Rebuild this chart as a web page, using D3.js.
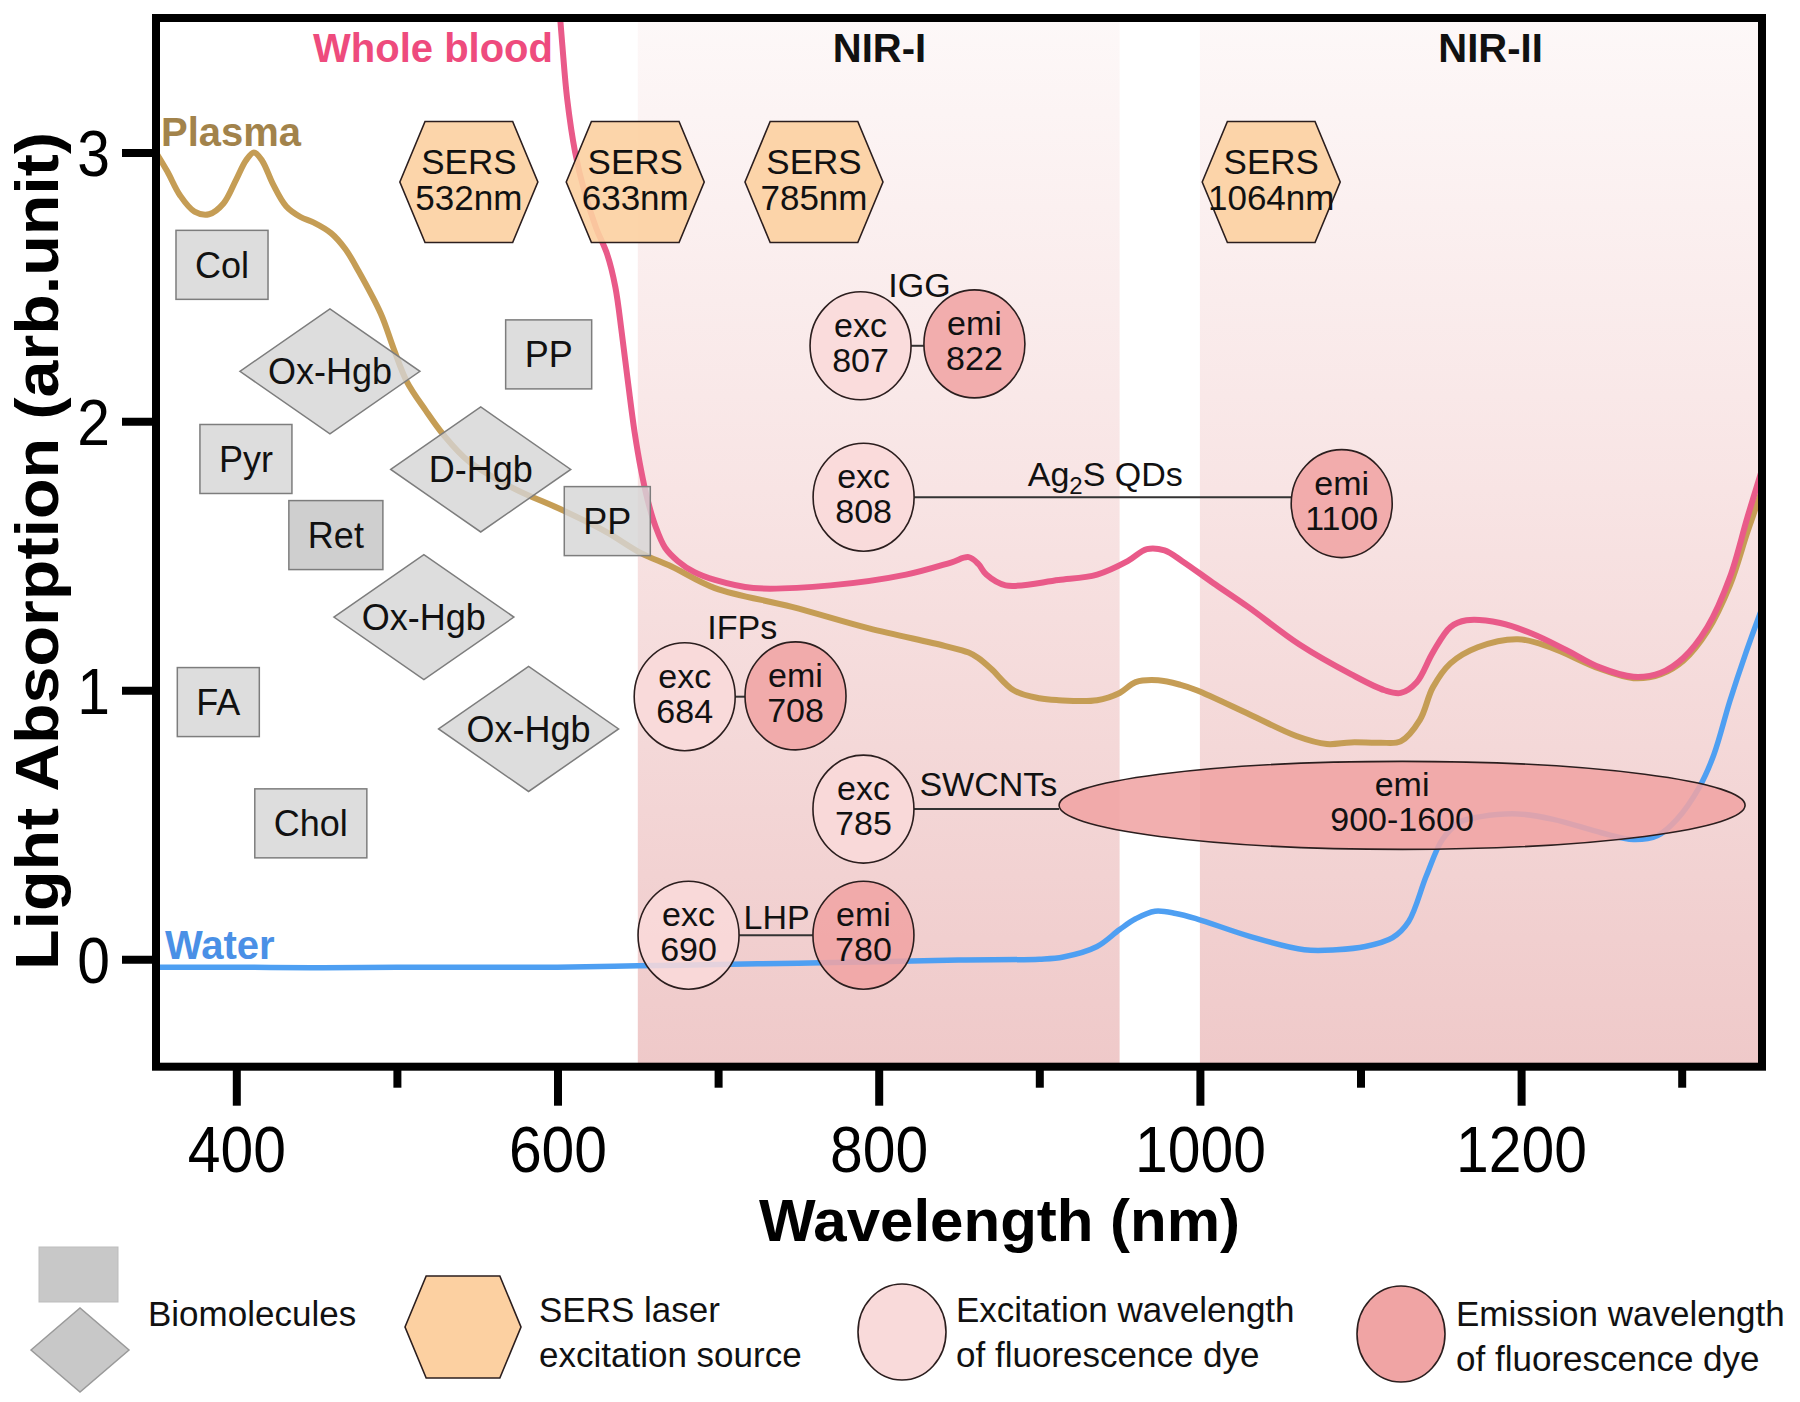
<!DOCTYPE html>
<html><head><meta charset="utf-8">
<script src="https://cdn.jsdelivr.net/npm/d3@7"></script>
<style>
html,body{margin:0;padding:0;background:#fff;}
svg{display:block;font-family:"Liberation Sans",Arial,Helvetica,sans-serif;}
</style></head>
<body><svg id="chart" width="1800" height="1402"></svg>
<script>
// ---------------- data ----------------
const bloodWl  = [601, 603, 606, 611, 617, 624, 631, 636, 640, 644, 648, 652, 656, 661, 667, 675, 685, 698, 722, 770, 817, 845, 856, 862, 867, 879, 912, 936, 955, 967, 978, 989, 1008, 1030, 1062, 1094, 1115, 1125, 1135, 1145, 1156, 1166, 1187, 1207, 1228, 1249, 1270, 1287, 1301, 1316, 1330, 1341, 1350];
const bloodAbs = [3.55, 3.40, 3.20, 3.00, 2.85, 2.72, 2.62, 2.50, 2.33, 2.14, 1.96, 1.82, 1.71, 1.61, 1.53, 1.48, 1.44, 1.41, 1.38, 1.39, 1.43, 1.475, 1.495, 1.47, 1.43, 1.39, 1.41, 1.43, 1.48, 1.525, 1.52, 1.48, 1.40, 1.31, 1.17, 1.06, 1.00, 0.99, 1.03, 1.14, 1.235, 1.26, 1.25, 1.21, 1.15, 1.085, 1.05, 1.065, 1.12, 1.235, 1.42, 1.645, 1.82];

const plasmaWl  = [350, 357, 365, 374, 383, 392, 400, 406, 411, 416, 423, 431, 440, 448, 459, 468, 476, 490, 498, 506, 518, 529, 545, 573, 603, 630, 652, 671, 698, 746, 794, 841, 856, 862, 870, 884, 900, 912, 936, 950, 960, 974, 988, 998, 1031, 1060, 1079, 1094, 1112, 1125, 1137, 1145, 1156, 1173, 1198, 1218, 1249, 1270, 1287, 1301, 1316, 1330, 1341, 1350];
const plasmaAbs = [3.00, 2.93, 2.84, 2.78, 2.77, 2.81, 2.90, 2.97, 3.00, 2.97, 2.88, 2.80, 2.76, 2.74, 2.70, 2.64, 2.56, 2.40, 2.27, 2.15, 2.04, 1.95, 1.85, 1.75, 1.67, 1.59, 1.51, 1.46, 1.38, 1.31, 1.23, 1.165, 1.14, 1.12, 1.08, 1.00, 0.97, 0.963, 0.963, 0.99, 1.03, 1.037, 1.02, 1.00, 0.91, 0.83, 0.80, 0.806, 0.805, 0.81, 0.89, 1.01, 1.10, 1.16, 1.19, 1.16, 1.08, 1.045, 1.06, 1.11, 1.22, 1.39, 1.59, 1.745];

const waterWl  = [350, 400, 450, 500, 550, 600, 650, 700, 750, 800, 850, 900, 915, 936, 950, 960, 972, 985, 998, 1031, 1065, 1085, 1103, 1120, 1130, 1141, 1151, 1162, 1175, 1198, 1220, 1250, 1270, 1285, 1297, 1311, 1320, 1330, 1340, 1350];
const waterAbs = [-0.03, -0.03, -0.032, -0.03, -0.03, -0.03, -0.025, -0.02, -0.015, -0.01, -0.003, 0.0, 0.008, 0.047, 0.11, 0.15, 0.178, 0.17, 0.15, 0.085, 0.035, 0.035, 0.047, 0.08, 0.14, 0.31, 0.445, 0.51, 0.53, 0.54, 0.52, 0.47, 0.445, 0.46, 0.52, 0.64, 0.76, 0.96, 1.14, 1.305];

const curveNames    = ["Whole blood", "Plasma", "Water"];
const curveLabelWl  = [522.5, 353.1, 355.6];
const curveLabelAbs = [3.336, 3.025, 0.0];

const xTicksMajor = [400, 600, 800, 1000, 1200];
const xTicksMinor = [500, 700, 900, 1100, 1300];
const yTicks = [0, 1, 2, 3];

const bandNames   = ["NIR-I", "NIR-II"];
const bandStart   = [650, 1000];
const bandEnd     = [950, 1350];
const bandLabelWl = [800.5, 1181];
const bandLabelAbs = 3.336;

const boxNames = ["Col", "PP", "Pyr", "Ret", "PP", "FA", "Chol"];
const boxWl    = [391.1, 594.5, 406, 462, 631, 388.8, 446.4];
const boxAbs   = [2.582, 2.249, 1.860, 1.577, 1.629, 0.956, 0.505];

const diamondNames = ["Ox-Hgb", "D-Hgb", "Ox-Hgb", "Ox-Hgb"];
const diamondWl    = [458.3, 552.2, 516.8, 582];
const diamondAbs   = [2.186, 1.821, 1.272, 0.856];

const sersNames = ["532nm", "633nm", "785nm", "1064nm"];
const sersWl    = [544.8, 648.4, 759.7, 1044.4];
const sersAbs   = [2.89, 2.89, 2.89, 2.89];

const dyeNames    = ["IGG", "Ag2S QDs", "IFPs", "SWCNTs", "LHP"];
const dyeExc      = ["807", "808", "684", "785", "690"];
const dyeEmi      = ["822", "1100", "708", "900-1600", "780"];
const dyeExcWl    = [788.7, 790.6, 679.2, 790.5, 681.6];
const dyeExcAbs   = [2.281, 1.718, 0.976, 0.558, 0.089];
const dyeEmiWl    = [859.6, 1088.3, 748.2, 1125.9, 790.5];
const dyeEmiAbs   = [2.288, 1.694, 0.979, 0.572, 0.089];
const dyeLabelWl  = [825.4, 941.1, 715, 868.3, 736.4];
const dyeLabelAbs = [2.462, 1.761, 1.19, 0.605, 0.112];

const legendLabels = [["Biomolecules"], ["SERS laser", "excitation source"], ["Excitation wavelength", "of fluorescence dye"], ["Emission wavelength", "of fluorescence dye"]];

// ---------------- setup ----------------
const svg = d3.select("#chart");
const L = 156, R = 1762, T = 18, B = 1066.7;
const x = d3.scaleLinear().domain([350, 1350]).range([L, R]);
const y = d3.scaleLinear().domain([-0.4, 3.5]).range([B, T]);

const C = {
  blood: "#e95a89", bloodText: "#ee4b7d",
  plasma: "#c59d55", plasmaText: "#a2834b",
  water: "#4e9ff2", waterText: "#4a90e6",
  box: "#d5d5d5", boxDark: "#c4c4c4", boxStroke: "#7d7d7d",
  hex: "#fcd0a1", exc: "#f9dada", emi: "#f0a4a4", shapeStroke: "#2b1e1e"
};

const defs = svg.append("defs");
const grad = defs.append("linearGradient").attr("id", "bandGrad")
  .attr("x1", 0).attr("y1", 0).attr("x2", 0).attr("y2", 1);
grad.append("stop").attr("offset", "0%").attr("stop-color", "#fdf8f8");
grad.append("stop").attr("offset", "45%").attr("stop-color", "#f8e4e4");
grad.append("stop").attr("offset", "100%").attr("stop-color", "#efc9c9");
defs.append("clipPath").attr("id", "plotClip").append("rect")
  .attr("x", L).attr("y", T).attr("width", R - L).attr("height", B - T);

// two-line text as one element
function twoLine(g, lines, y1, gap, size, anchor, xPos) {
  const t = g.append("text").attr("text-anchor", anchor).attr("font-size", size).attr("fill", "#111");
  lines.forEach((s, j) => {
    t.append("tspan").attr("x", xPos).attr(j === 0 ? "y" : "dy", j === 0 ? y1 : gap).text(s);
  });
  return t;
}

// bands
const bandG = svg.append("g");
bandNames.forEach((n, i) => {
  bandG.append("rect").attr("x", x(bandStart[i])).attr("y", y(3.5))
    .attr("width", x(bandEnd[i]) - x(bandStart[i])).attr("height", y(-0.4) - y(3.5))
    .attr("fill", "url(#bandGrad)");
  svg.append("text").attr("x", x(bandLabelWl[i])).attr("y", y(bandLabelAbs))
    .attr("text-anchor", "middle").attr("font-size", 40).attr("font-weight", "bold")
    .attr("fill", "#111").text(n);
});

// curves
const line = d3.line().x(d => x(d[0])).y(d => y(d[1])).curve(d3.curveCatmullRom.alpha(0.5));
const curveG = svg.append("g").attr("clip-path", "url(#plotClip)");
const series = [
  [waterWl, waterAbs, C.water, 5.5],
  [plasmaWl, plasmaAbs, C.plasma, 6],
  [bloodWl, bloodAbs, C.blood, 6]
];
series.forEach(([wl, ab, col, w]) => {
  curveG.append("path").datum(wl.map((v, i) => [v, ab[i]]))
    .attr("d", line).attr("fill", "none").attr("stroke", col)
    .attr("stroke-width", w).attr("stroke-linejoin", "round").attr("stroke-linecap", "round");
});

// curve labels
const curveTextCol = [C.bloodText, C.plasmaText, C.waterText];
const curveAnchor = ["middle", "start", "start"];
curveNames.forEach((n, i) => {
  svg.append("text").attr("x", x(curveLabelWl[i])).attr("y", y(curveLabelAbs[i]))
    .attr("text-anchor", curveAnchor[i]).attr("font-size", 40).attr("font-weight", "bold")
    .attr("fill", curveTextCol[i]).text(n);
});

const annG = svg.append("g");

// biomolecule boxes
boxNames.forEach((n, i) => {
  const g = annG.append("g").attr("transform", `translate(${x(boxWl[i])},${y(boxAbs[i])})`);
  const r = g.append("rect");
  const t = g.append("text").attr("text-anchor", "middle").attr("y", 13)
    .attr("font-size", 36).attr("fill", "#111").text(n);
  const w = t.node().getComputedTextLength() + 38, h = 69;
  r.attr("x", -w / 2).attr("y", -h / 2).attr("width", w).attr("height", h)
    .attr("fill", n === "Ret" ? C.boxDark : C.box).attr("fill-opacity", 0.82)
    .attr("stroke", C.boxStroke).attr("stroke-width", 1.5);
});

// diamonds
diamondNames.forEach((n, i) => {
  const g = annG.append("g").attr("transform", `translate(${x(diamondWl[i])},${y(diamondAbs[i])})`);
  const hw = 90, hh = 62.5;
  g.append("path").attr("d", `M${-hw},0L0,${-hh}L${hw},0L0,${hh}Z`)
    .attr("fill", C.box).attr("fill-opacity", 0.8)
    .attr("stroke", C.boxStroke).attr("stroke-width", 1.5);
  g.append("text").attr("text-anchor", "middle").attr("y", 13)
    .attr("font-size", 36).attr("fill", "#111").text(n);
});

// hexagon helper
function hexPath(hw, hh) {
  const hi = hw * 0.635;
  return `M${-hw},0L${-hi},${-hh}L${hi},${-hh}L${hw},0L${hi},${hh}L${-hi},${hh}Z`;
}
sersNames.forEach((n, i) => {
  const g = annG.append("g").attr("transform", `translate(${x(sersWl[i])},${y(sersAbs[i])})`);
  g.append("path").attr("d", hexPath(69, 60.5)).attr("fill", C.hex).attr("fill-opacity", 0.9)
    .attr("stroke", C.shapeStroke).attr("stroke-width", 1.6);
  twoLine(g, ["SERS", n], -8, 36, 35, "middle", 0);
});

// dyes
const CR = 50.5, CRY = 54;
const ELL_RX = 343, ELL_RY = 44;
dyeNames.forEach((n, i) => {
  const ex = x(dyeExcWl[i]), ey = y(dyeExcAbs[i]);
  const mx = x(dyeEmiWl[i]), my = y(dyeEmiAbs[i]);
  const isEll = dyeEmi[i].includes("-");
  const erx = isEll ? ELL_RX : CR, ery = isEll ? ELL_RY : CRY;
  annG.append("line").attr("x1", ex + CR).attr("x2", mx - erx).attr("y1", ey).attr("y2", ey)
    .attr("stroke", "#333").attr("stroke-width", 2);
  [[ex, ey, CR, CRY, C.exc, "exc", dyeExc[i]], [mx, my, erx, ery, C.emi, "emi", dyeEmi[i]]].forEach(([cx, cy, rx, ry, fill, t1, t2]) => {
    const g = annG.append("g").attr("transform", `translate(${cx},${cy})`);
    g.append("ellipse").attr("rx", rx).attr("ry", ry).attr("fill", fill).attr("fill-opacity", 0.88)
      .attr("stroke", C.shapeStroke).attr("stroke-width", 1.6);
    twoLine(g, [t1, t2], -9, 35, 34, "middle", 0);
  });
  const lt = annG.append("text").attr("x", x(dyeLabelWl[i])).attr("y", y(dyeLabelAbs[i]))
    .attr("text-anchor", "middle").attr("font-size", 34).attr("fill", "#111");
  if (n.startsWith("Ag2S")) {
    lt.append("tspan").text("Ag");
    lt.append("tspan").attr("font-size", 24).attr("dy", 8).text("2");
    lt.append("tspan").attr("dy", -8).text("S QDs");
  } else {
    lt.text(n);
  }
});

// frame
svg.append("rect").attr("x", L).attr("y", T).attr("width", R - L).attr("height", B - T)
  .attr("fill", "none").attr("stroke", "#000").attr("stroke-width", 8);

// axes
const axB = svg.append("g").attr("transform", `translate(0,${B})`)
  .call(d3.axisBottom(x).tickValues(xTicksMajor).tickSize(39).tickFormat(d3.format("d")));
axB.select(".domain").remove();
axB.selectAll(".tick line").attr("stroke", "#000").attr("stroke-width", 8);
axB.selectAll(".tick text").attr("y", 105).attr("dy", null).attr("font-size", 64)
  .attr("font-family", null).attr("fill", "#000").attr("transform", "scale(0.92,1)");

const axBm = svg.append("g").attr("transform", `translate(0,${B})`)
  .call(d3.axisBottom(x).tickValues(xTicksMinor).tickSize(21).tickFormat(""));
axBm.select(".domain").remove();
axBm.selectAll(".tick line").attr("stroke", "#000").attr("stroke-width", 8);

const axL = svg.append("g").attr("transform", `translate(${L},0)`)
  .call(d3.axisLeft(y).tickValues(yTicks).tickSize(34).tickFormat(d3.format("d")));
axL.select(".domain").remove();
axL.selectAll(".tick line").attr("stroke", "#000").attr("stroke-width", 8);
axL.selectAll(".tick text").attr("x", -50).attr("dy", "0.36em").attr("font-size", 64)
  .attr("font-family", null).attr("fill", "#000").attr("transform", "scale(0.92,1)");

// axis titles
svg.append("text").attr("x", 999.5).attr("y", 1241).attr("text-anchor", "middle")
  .attr("font-size", 60).attr("font-weight", "bold").attr("fill", "#000").text("Wavelength (nm)");
svg.append("text").attr("transform", "translate(58,551) rotate(-90)").attr("text-anchor", "middle")
  .attr("font-size", 62).attr("font-weight", "bold").attr("fill", "#000")
  .attr("textLength", 838).attr("lengthAdjust", "spacingAndGlyphs")
  .text("Light Absorption (arb.unit)");

// legend
const lg = svg.append("g");
lg.append("rect").attr("x", 39).attr("y", 1247).attr("width", 79).attr("height", 55)
  .attr("fill", "#c8c8c8").attr("stroke", "#bdbdbd").attr("stroke-width", 1);
lg.append("path").attr("transform", "translate(80,1350)").attr("d", "M-49,0L0,-42L49,0L0,42Z")
  .attr("fill", "#c8c8c8").attr("stroke", "#9a9a9a").attr("stroke-width", 1.5);
lg.append("path").attr("transform", "translate(463,1327)").attr("d", hexPath(58, 51))
  .attr("fill", C.hex).attr("stroke", C.shapeStroke).attr("stroke-width", 1.6);
lg.append("ellipse").attr("cx", 902).attr("cy", 1332).attr("rx", 44).attr("ry", 48)
  .attr("fill", C.exc).attr("stroke", C.shapeStroke).attr("stroke-width", 1.6);
lg.append("ellipse").attr("cx", 1401).attr("cy", 1334).attr("rx", 44).attr("ry", 48)
  .attr("fill", C.emi).attr("stroke", C.shapeStroke).attr("stroke-width", 1.6);
const legX = [148, 539, 956, 1456];
const legY = [1326, 1322, 1322, 1326];
legendLabels.forEach((lines, i) => {
  twoLine(lg, lines, legY[i], 45, 35, "start", legX[i]);
});
</script></body></html>
